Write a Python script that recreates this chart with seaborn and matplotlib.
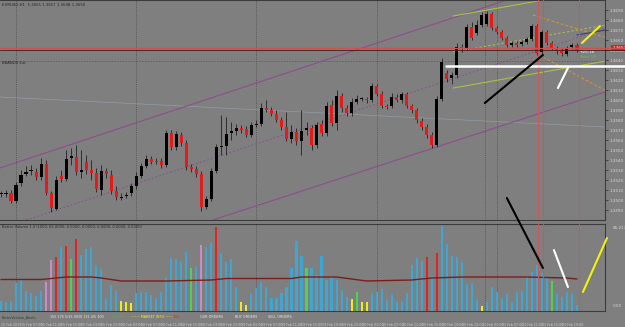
import numpy as np
import pandas as pd
import matplotlib
matplotlib.use('Agg')
import matplotlib.pyplot as plt
import matplotlib.transforms as mtransforms
import seaborn as sns

# 1. 차트 데이터 (H1 캔들, 화면에서 읽은 값)
opens = [1.3506, 1.3506, 1.3507, 1.3499, 1.3517, 1.3526, 1.3529, 1.3528, 1.3523, 1.3536,
         1.3507, 1.3491, 1.3524, 1.3521, 1.3542, 1.3543, 1.3528, 1.3538, 1.3530, 1.3527,
         1.3510, 1.3529, 1.3525, 1.3509, 1.3502, 1.3504, 1.3507, 1.3514, 1.3524, 1.3534,
         1.3541, 1.3539, 1.3539, 1.3535, 1.3567, 1.3553, 1.3565, 1.3557, 1.3533, 1.3531,
         1.3526, 1.3493, 1.3501, 1.3529, 1.3553, 1.3554, 1.3567, 1.3569, 1.3572, 1.3571,
         1.3565, 1.3575, 1.3576, 1.3592, 1.3590, 1.3586, 1.3580, 1.3573, 1.3561, 1.3568,
         1.3559, 1.3570, 1.3572, 1.3555, 1.3576, 1.3567, 1.3595, 1.3577, 1.3604, 1.3592,
         1.3587, 1.3598, 1.3601, 1.3601, 1.3600, 1.3614, 1.3606, 1.3594, 1.3594, 1.3603,
         1.3600, 1.3606, 1.3594, 1.3590, 1.3579, 1.3573, 1.3565, 1.3555, 1.3601, 1.3627,
         1.3622, 1.3625, 1.3653, 1.3652, 1.3673, 1.3667, 1.3675, 1.3676, 1.3686, 1.3672,
         1.3668, 1.3662, 1.3655, 1.3657, 1.3656, 1.3658, 1.3661, 1.3674, 1.3648, 1.3668,
         1.3657, 1.3652, 1.3650, 1.3646, 1.3653, 1.3655]
highs = [1.3509, 1.3510, 1.3510, 1.3518, 1.3530, 1.3534, 1.3535, 1.3532, 1.3542, 1.3540,
         1.3509, 1.3524, 1.3530, 1.3550, 1.3552, 1.3555, 1.3550, 1.3545, 1.3540, 1.3532,
         1.3535, 1.3532, 1.3530, 1.3514, 1.3507, 1.3508, 1.3517, 1.3528, 1.3537, 1.3545,
         1.3544, 1.3542, 1.3542, 1.3570, 1.3570, 1.3569, 1.3568, 1.3560, 1.3536, 1.3534,
         1.3529, 1.3504, 1.3532, 1.3556, 1.3585, 1.3583, 1.3578, 1.3576, 1.3575, 1.3574,
         1.3578, 1.3580, 1.3597, 1.3600, 1.3593, 1.3590, 1.3583, 1.3588, 1.3575, 1.3572,
         1.3590, 1.3578, 1.3575, 1.3578, 1.3580, 1.3598, 1.3600, 1.3610, 1.3607, 1.3595,
         1.3602, 1.3605, 1.3603, 1.3603, 1.3617, 1.3616, 1.3609, 1.3596, 1.3607, 1.3606,
         1.3608, 1.3608, 1.3596, 1.3592, 1.3582, 1.3576, 1.3568, 1.3604, 1.3642, 1.3630,
         1.3628, 1.3657, 1.3656, 1.3676, 1.3678, 1.3680, 1.3688, 1.3689, 1.3688, 1.3674,
         1.3670, 1.3664, 1.3659, 1.3659, 1.3660, 1.3663, 1.3676, 1.3676, 1.3670, 1.3670,
         1.3659, 1.3654, 1.3652, 1.3654, 1.3657, 1.3657]
lows = [1.3503, 1.3503, 1.3497, 1.3497, 1.3514, 1.3524, 1.3525, 1.3520, 1.3520, 1.3505,
        1.3488, 1.3490, 1.3518, 1.3519, 1.3535, 1.3525, 1.3522, 1.3526, 1.3520, 1.3508,
        1.3505, 1.3522, 1.3506, 1.3500, 1.3500, 1.3502, 1.3504, 1.3511, 1.3522, 1.3532,
        1.3536, 1.3536, 1.3532, 1.3533, 1.3550, 1.3550, 1.3554, 1.3530, 1.3528, 1.3523,
        1.3489, 1.3491, 1.3499, 1.3527, 1.3545, 1.3545, 1.3560, 1.3565, 1.3567, 1.3563,
        1.3563, 1.3573, 1.3574, 1.3588, 1.3584, 1.3578, 1.3570, 1.3559, 1.3557, 1.3555,
        1.3545, 1.3565, 1.3550, 1.3552, 1.3564, 1.3564, 1.3574, 1.3570, 1.3588, 1.3584,
        1.3584, 1.3596, 1.3599, 1.3597, 1.3598, 1.3604, 1.3592, 1.3591, 1.3592, 1.3598,
        1.3597, 1.3592, 1.3587, 1.3577, 1.3570, 1.3562, 1.3552, 1.3553, 1.3599, 1.3618,
        1.3616, 1.3622, 1.3648, 1.3650, 1.3660, 1.3665, 1.3673, 1.3674, 1.3670, 1.3666,
        1.3660, 1.3653, 1.3653, 1.3653, 1.3654, 1.3656, 1.3659, 1.3645, 1.3646, 1.3655,
        1.3650, 1.3646, 1.3644, 1.3644, 1.3651, 1.3648]
closes = [1.3507, 1.3506, 1.3499, 1.3515, 1.3525, 1.3528, 1.3529, 1.3523, 1.3536, 1.3507,
          1.3492, 1.3520, 1.3521, 1.3541, 1.3544, 1.3528, 1.3530, 1.3530, 1.3527, 1.3511,
          1.3529, 1.3526, 1.3509, 1.3503, 1.3503, 1.3505, 1.3514, 1.3524, 1.3534, 1.3541,
          1.3538, 1.3538, 1.3535, 1.3567, 1.3553, 1.3566, 1.3557, 1.3533, 1.3531, 1.3526,
          1.3493, 1.3501, 1.3529, 1.3553, 1.3554, 1.3566, 1.3569, 1.3572, 1.3570, 1.3565,
          1.3575, 1.3576, 1.3592, 1.3590, 1.3586, 1.3580, 1.3573, 1.3561, 1.3568, 1.3559,
          1.3569, 1.3572, 1.3555, 1.3575, 1.3567, 1.3594, 1.3577, 1.3604, 1.3592, 1.3587,
          1.3598, 1.3601, 1.3601, 1.3600, 1.3614, 1.3606, 1.3594, 1.3593, 1.3603, 1.3600,
          1.3606, 1.3594, 1.3590, 1.3580, 1.3573, 1.3565, 1.3555, 1.3601, 1.3638, 1.3621,
          1.3625, 1.3653, 1.3651, 1.3673, 1.3662, 1.3675, 1.3685, 1.3686, 1.3672, 1.3668,
          1.3662, 1.3655, 1.3657, 1.3655, 1.3658, 1.3661, 1.3674, 1.3647, 1.3668, 1.3657,
          1.3652, 1.3649, 1.3647, 1.3652, 1.3655, 1.3650]

# 거래량 (Better Volume) 과 막대 종류
volumes = [10, 9, 10, 28, 31, 20, 18, 15, 20, 29,
           51, 54, 64, 65, 52, 72, 56, 62, 64, 45,
           42, 12, 26, 20, 10, 9, 8, 18, 19, 19,
           16, 13, 19, 33, 53, 52, 49, 59, 43, 44,
           66, 64, 68, 84, 58, 49, 52, 24, 9, 6,
           18, 23, 29, 24, 13, 13, 18, 24, 43, 70,
           55, 43, 43, 36, 55, 31, 34, 31, 21, 14,
           12, 19, 9, 9, 18, 19, 22, 11, 17, 9,
           9, 18, 46, 53, 50, 54, 35, 58, 85, 67,
           55, 54, 49, 27, 28, 11, 5, 9, 24, 19,
           13, 17, 9, 19, 20, 35, 39, 46, 38, 33,
           30, 17, 14, 19, 17, 6]
vol_kinds = ('BBBBBBBBB' + 'PPRBRGR' + 'BBBBBBBB' + 'YYY' + 'BBBBBBBBBBB' + 'GBPBBR'
             + 'BBBB' + 'YY' + 'BBBBBBBBBBB' + 'G' + 'BBBBBBBB' + 'YGYY' + 'BBBBBBBBBBB'
             + 'RBR' + 'BBBBBBBB' + 'Y' + 'BBBBBBBBBBBBB' + 'G' + 'BBBBB')

# 거래량 이동평균 (읽은 지점)
ma_bars = [0, 8, 13, 18, 20, 24, 33, 42, 45, 58, 60, 67, 73, 82, 86, 92, 105, 113, 115]
ma_vals = [31.5, 31.5, 34, 34, 33, 30, 30, 31, 32.5, 32.5, 34, 34, 30, 31, 33, 34, 34, 33, 32]

# 추세선 (바 번호, 가격)
chan_upper = [(-0.2, 1.3532), (81.7, 1.3668)]
chan_lower = [(42.3, 1.3480), (109.6, 1.3590)]
chan_mid = [(3.8, 1.3478), (87.7, 1.3617)]
reg_lo = ([90.3, 124.2], [1.3612, 1.3642])
reg_mid = ([90.3, 124.2], [1.3648, 1.3678])
reg_hi = ([90.3, 124.2], [1.3684, 1.3714])
orange_a = ([106.2, 124.2], [1.3685, 1.3657])
orange_b = ([108.2, 124.2], [1.3643, 1.3600])
navy_line = ([115.0, 124.2], [1.3665, 1.3673])
faint_line = ([-0.2, 120.6], [1.3603, 1.3573])
white_level = 1.3634
white_from = 88.9
bid_price = 1.3652
red_vlines = [107.2, 108.2, 115.4]
grid_bars = [3, 27, 51, 75, 96.7, 99]
grid_price = 1.3639

# 손으로 그린 화살표 선 (바 번호, 가격 / 거래량)
pen_black = ([96.6, 108.2], [1.3597, 1.3645])
pen_white = ([111.2, 113.2], [1.3612, 1.3632])
pen_yellow = ([116.0, 119.6], [1.3657, 1.3674])
vpen_black = ([101.0, 108.2], [113, 43])
vpen_white = ([110.4, 113.2], [61, 24])
vpen_yellow = ([116.2, 121.0], [19, 73])

date_labels = ['15 Feb 2013', '15 Feb 07:00', '15 Feb 11:00', '15 Feb 15:00', '15 Feb 19:00',
               '15 Feb 23:00', '18 Feb 03:00', '18 Feb 07:00', '18 Feb 11:00', '18 Feb 15:00',
               '18 Feb 19:00', '18 Feb 23:00', '19 Feb 03:00', '19 Feb 07:00', '19 Feb 11:00',
               '19 Feb 15:00', '19 Feb 19:00', '19 Feb 23:00', '20 Feb 03:00', '20 Feb 07:00',
               '20 Feb 11:00', '20 Feb 15:00', '20 Feb 19:00', '20 Feb 23:00', '21 Feb 03:00',
               '21 Feb 07:00', '21 Feb 11:00', '21 Feb 15:00', '21 Feb 19:00']

# 2. 스타일
BG = '#7f7f7f'
RED = '#e41b1b'
PURPLE = '#8c4f8c'
LIME = '#a9c23f'
ORANGE = '#d9963a'
PAL = {'B': '#3fa6d2', 'P': '#c98bc9', 'R': '#e02424', 'G': '#49d64a', 'Y': '#eded1c'}

sns.set_style('dark', {'axes.facecolor': BG, 'figure.facecolor': BG})
plt.rcParams['font.family'] = ['DejaVu Sans']

W, H = 625, 327
def box(x0, y0, x1, y1):
    return [x0 / W, 1 - y1 / H, (x1 - x0) / W, (y1 - y0) / H]

fig = plt.figure(figsize=(6.25, 3.27), dpi=100, facecolor=BG)
ax = fig.add_axes(box(0, 0, 605, 220))
axv = fig.add_axes(box(0, 224, 605, 311))
XL = (-0.2, 120.6)

df = pd.DataFrame({'open': opens, 'high': highs, 'low': lows, 'close': closes})
df['bar'] = np.arange(len(df))
up = df['close'] >= df['open']
body_lo = df[['open', 'close']].min(axis=1)
body_h = (df['close'] - df['open']).abs().clip(lower=0.00012)

# 3. 가격 패널
for g in grid_bars:
    ax.axvline(g, color='#4d4d4d', lw=0.5, ls=(0, (1.5, 1.5)), zorder=1)
ax.axhline(grid_price, color='#555555', lw=0.5, ls=(0, (2, 2)), zorder=1)
ax.plot(*faint_line, color='#9aa9b8', lw=0.5, alpha=0.7, zorder=1)

for p in (chan_upper, chan_lower):
    ax.axline(p[0], p[1], color=PURPLE, lw=0.8, zorder=2)
ax.axline(chan_mid[0], chan_mid[1], color=PURPLE, lw=0.7, ls=(0, (2, 2)), zorder=2)
ax.plot(*reg_lo, color=LIME, lw=0.8, zorder=2)
ax.plot(*reg_hi, color=LIME, lw=0.8, zorder=2)
ax.plot(*reg_mid, color=LIME, lw=0.8, ls=(0, (2, 2)), zorder=2)
ax.plot(*orange_a, color=ORANGE, lw=0.7, ls=(0, (3, 2)), zorder=2)
ax.plot(*orange_b, color=ORANGE, lw=0.7, ls=(0, (3, 2)), zorder=2)
ax.plot(*navy_line, color='#3d3d7a', lw=0.8, zorder=2)

ax.vlines(df['bar'], df['low'], df['high'], color='#222222', lw=0.6, zorder=3)
ax.bar(df['bar'], body_h, bottom=body_lo, width=0.62,
       color=np.where(up, '#000000', RED), linewidth=0, zorder=4)

for v in red_vlines:
    ax.axvline(v, color='#c85a5a', lw=0.8, zorder=5)
ax.plot([XL[0], 124.6], [bid_price, bid_price], color='#d05050', lw=1.0, zorder=5, clip_on=False)
ax.plot([XL[0], 124.6], [bid_price - 0.00018] * 2, color='#3a1f1f', lw=0.6, zorder=5, clip_on=False)
ax.plot([white_from, 124.6], [white_level, white_level], color='white', lw=1.8, zorder=6, clip_on=False)

ax.plot(*pen_black, color='black', lw=1.5, zorder=7)
ax.plot(*pen_white, color='white', lw=1.5, zorder=7)
ax.plot(*pen_yellow, color='#f2f20a', lw=1.5, zorder=7, clip_on=False)

ax.set_xlim(*XL)
ax.set_ylim(1.3480, 1.3700)
ax.set_xticks([])
ax.yaxis.tick_right()
ax.set_yticks(np.arange(1.3490, 1.36995, 0.0010))
ax.yaxis.set_major_formatter(matplotlib.ticker.FormatStrFormatter('%.4f'))
ax.tick_params(axis='y', labelsize=3, labelcolor='#d6d6d6', color='#2e2e2e',
               length=2, width=0.5, pad=1, right=True)
for s in ax.spines.values():
    s.set_color('#3c3c3c')
    s.set_linewidth(0.8)
ax.spines['left'].set_visible(False)

ax.text(0.003, 0.985, 'EURUSD,H1  1.3655 1.3657 1.3648 1.3650', transform=ax.transAxes,
        fontsize=2.8, color='#262626', va='top')
ax.text(0.003, 0.725, 'BBANDS Ext', transform=ax.transAxes, fontsize=2.8, color='#262626', va='top')
ax.text(115.6, 1.3648, '+25.18', fontsize=3, color='white', va='center')
ax.text(115.4, 1.3643, 'Trend: UP', fontsize=2.6, color='#4ccf4c', va='center')
ax.text(1.012, bid_price, '1.3652', transform=mtransforms.blended_transform_factory(ax.transAxes, ax.transData),
        fontsize=3, color='white', va='center',
        bbox=dict(fc='#d42020', ec='none', pad=0.6), clip_on=False)

# 4. 거래량 패널
vdf = pd.DataFrame({'bar': np.arange(len(volumes)), 'vol': volumes, 'kind': list(vol_kinds)})
sns.barplot(data=vdf, x='bar', y='vol', hue='kind', palette=PAL, native_scale=True,
            width=0.42, dodge=False, errorbar=None, legend=False, saturation=1,
            linewidth=0, ax=axv, zorder=3)
sns.lineplot(x=ma_bars, y=ma_vals, color='#7b1d1d', lw=1.0, ax=axv, zorder=4)

for g in grid_bars:
    axv.axvline(g, color='#4d4d4d', lw=0.5, ls=(0, (1.5, 1.5)), zorder=1)
for v in red_vlines:
    axv.axvline(v, color='#c85a5a', lw=0.8, zorder=5)
axv.plot(*vpen_black, color='black', lw=1.5, zorder=7, clip_on=False)
axv.plot(*vpen_white, color='white', lw=1.5, zorder=7)
axv.plot(*vpen_yellow, color='#f2f20a', lw=1.5, zorder=7, clip_on=False)

axv.set_xlim(*XL)
axv.set_ylim(0, 87)
axv.set_xlabel('')
axv.set_ylabel('')
axv.set_yticks([])
axv.set_xticks(np.arange(0, 4 * len(date_labels), 4), date_labels)
axv.tick_params(axis='x', labelsize=2.3, labelcolor='#cfcfcf', length=0, pad=9)
for lab in axv.get_xticklabels():
    lab.set_ha('left')
for s in axv.spines.values():
    s.set_color('#3c3c3c')
    s.set_linewidth(0.8)
axv.spines['left'].set_visible(False)
axv.text(0.003, 0.985, 'Better Volume 1.4 (1000, 65.0000, 0.0000, 0.0000, 0.0000, 0.0000, 0.0000)',
         transform=axv.transAxes, fontsize=2.6, color='#262626', va='top')
axv.text(1.012, 0.98, '85.217', transform=axv.transAxes, fontsize=3, color='#d6d6d6', va='top')
axv.text(1.012, 0.03, '0.00', transform=axv.transAxes, fontsize=3, color='#d6d6d6', va='bottom')

# 5. 하단 정보 줄
row_y = 1 - 317 / H
fig.text(2 / W, row_y, 'BetterVolume_Alerts', fontsize=2.4, color='#28402a', va='center')
fig.text(50 / W, row_y, '155 175 5/15 0030 131 4/5 100', fontsize=2.4, color='#e6e6e6', va='center')
fig.text(111 / W, row_y, '~~~~~', fontsize=2.4, color='#42d442', va='center')
fig.text(131 / W, row_y, '~~~ MARKET INFO ~~~', fontsize=2.4, color='#f0f020', va='center')
fig.text(173 / W, row_y, 'SELL', fontsize=2.4, color='#e02424', va='center')
fig.text(200 / W, row_y, 'OUR ORDERS', fontsize=2.4, color='#e6e6e6', va='center')
fig.text(235 / W, row_y, 'BUY ORDERS', fontsize=2.4, color='#e6e6e6', va='center')
fig.text(268 / W, row_y, 'SELL ORDERS', fontsize=2.4, color='#e6e6e6', va='center')

fig.savefig('out.png', dpi=100, facecolor=BG)
